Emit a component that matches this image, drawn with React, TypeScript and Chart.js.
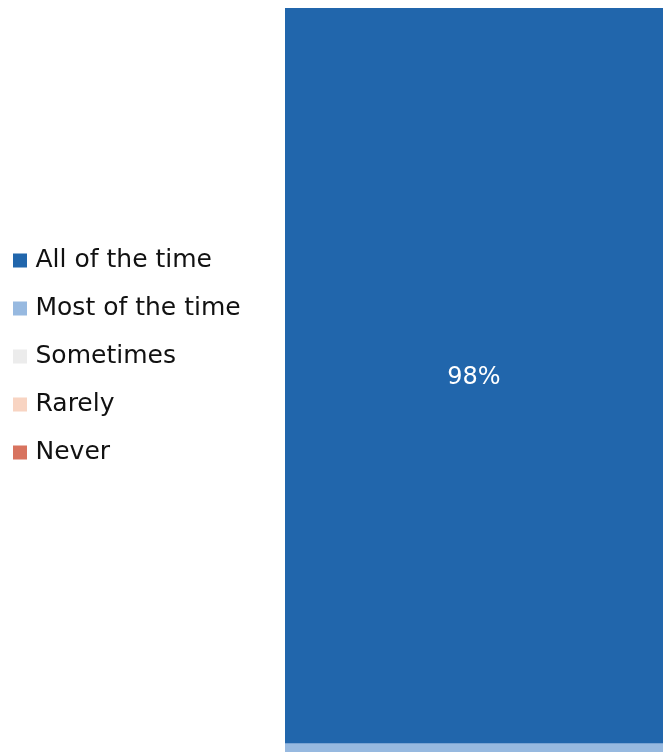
import React, { useEffect, useRef } from 'react';
import { Chart, registerables } from 'chart.js';

Chart.register(...registerables);

const categories: string[] = [''];
const seriesLabels: string[] = ['All of the time', 'Most of the time', 'Sometimes', 'Rarely', 'Never'];
const allOfTheTime: number[] = [98];
const mostOfTheTime: number[] = [2];
const sometimes: number[] = [0];
const rarely: number[] = [0];
const never: number[] = [0];
const seriesColors: string[] = ['#2166ac', '#97b9e0', '#ececec', '#f8d4c2', '#d8735f'];

const FONT = "'DejaVu Sans', sans-serif";

const valueLabels = {
  id: 'valueLabels',
  afterDatasetsDraw(chart: any) {
    const ctx = chart.ctx;
    ctx.save();
    ctx.font = `24px ${FONT}`;
    ctx.fillStyle = '#ffffff';
    ctx.textAlign = 'center';
    ctx.textBaseline = 'middle';
    chart.data.datasets.forEach((ds: any, i: number) => {
      const meta = chart.getDatasetMeta(i);
      if (meta.hidden) return;
      meta.data.forEach((el: any, j: number) => {
        const v = ds.data[j];
        if (!v || v < 5) return;
        const p = el.getProps(['x', 'y', 'base'], true);
        ctx.fillText(`${v}%`, p.x, (p.y + p.base) / 2 + 2);
      });
    });
    ctx.restore();
  },
};

export default function App() {
  const ref = useRef<HTMLCanvasElement | null>(null);
  useEffect(() => {
    document.body.style.margin = '0';
    if (!ref.current) return;
    const series = [allOfTheTime, mostOfTheTime, sometimes, rarely, never];
    const chart = new Chart(ref.current, {
      type: 'bar',
      data: {
        labels: categories,
        datasets: series.map((d, i) => ({
          label: seriesLabels[i],
          data: d,
          backgroundColor: seriesColors[i],
          borderWidth: 0,
          barPercentage: 1,
          categoryPercentage: 1,
        })),
      },
      options: {
        responsive: false,
        animation: false,
        maintainAspectRatio: false,
        layout: { padding: 0 },
        plugins: {
          tooltip: { enabled: false },
          legend: {
            position: 'left',
            align: 'start',
            maxWidth: 1000,
            title: {
              display: true,
              text: ' ',
              font: { size: 10, lineHeight: 1 },
              padding: { top: 0, bottom: 207 },
            },
            labels: {
              usePointStyle: true,
              pointStyle: 'rect',
              boxWidth: 6,
              boxHeight: 14,
              padding: 23,
              color: '#111111',
              font: { family: FONT, size: 25 },
            },
          },
        },
        scales: {
          x: { stacked: true, display: false },
          y: {
            stacked: true,
            reverse: true,
            min: 0,
            max: 100,
            display: true,
            ticks: { display: false },
            grid: { display: false },
            border: { display: false },
            afterFit: (scale: any) => {
              const lw = scale.chart.legend ? scale.chart.legend.width : 0;
              scale.width = Math.max(0, 291 - lw);
            },
          },
        },
      },
      plugins: [valueLabels],
    });
    return () => chart.destroy();
  }, []);
  return (
    <div style={{ width: 663, height: 752, overflow: 'hidden', background: '#ffffff' }}>
      <canvas
        ref={ref}
        width={669}
        height={750}
        style={{ display: 'block', marginLeft: -6, marginTop: 8, width: 669, height: 750 }}
      />
    </div>
  );
}
